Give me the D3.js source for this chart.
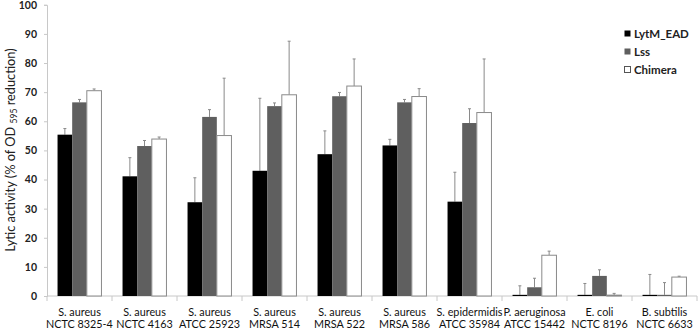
<!DOCTYPE html>
<html>
<head>
<script src="https://cdn.jsdelivr.net/npm/d3@7/dist/d3.min.js"></script>
<style>
    body{ margin:0; background:white; font-family:Lato, "Open Sans", sans-serif; }
</style>
</head>
<body>
<div id="chart"></div>
<script>
    var categories = [
        ["S. aureus","NCTC 8325-4"],
        ["S. aureus","NCTC 4163"],
        ["S. aureus","ATCC 25923"],
        ["S. aureus","MRSA 514"],
        ["S. aureus","MRSA 522"],
        ["S. aureus","MRSA 586"],
        ["S. epidermidis","ATCC 35984"],
        ["P. aeruginosa","ATCC 15442"],
        ["E. coli","NCTC 8196"],
        ["B. subtilis","NCTC 6633"]
    ]
    var series = ["LytM_EAD","Lss","Chimera"]
    var lytm = [55.4, 41.1, 32.2, 43.0, 48.7, 51.7, 32.4, 0.4, 0.4, 0.4]
    var lytmErr = [2.1, 6.4, 8.4, 24.9, 8.0, 2.1, 10.1, 3.1, 3.9, 7.0]
    var lss = [66.5, 51.5, 61.5, 65.2, 68.6, 66.5, 59.4, 3.0, 6.9, 0.4]
    var lssErr = [1.0, 1.9, 2.5, 1.1, 1.3, 1.0, 4.9, 3.1, 2.1, 4.2]
    var chimera = [70.5, 53.9, 55.1, 69.1, 72.1, 68.5, 63.0, 14.0, 0.3, 6.5]
    var chimeraErr = [0.6, 0.7, 19.7, 18.4, 9.3, 2.7, 18.4, 1.4, 0.6, 0.3]
    var yTicks = [0,10,20,30,40,50,60,70,80,90,100]

    var values = [lytm, lss, chimera]
    var errors = [lytmErr, lssErr, chimeraErr]
    var fills = ["#000000","#5f5f5f","#ffffff"]
    var strokes = ["none","none","#8a8a8a"]

    var width = 700, height = 329
    var svg = d3.select("#chart").append("svg")
        .attr("width",width).attr("height",height)

    var x0 = d3.scaleBand().domain(d3.range(categories.length)).range([47,697])
    var x1 = d3.scaleBand().domain(series).range([0,x0.bandwidth()]).paddingOuter(0.72)
    var y = d3.scaleLinear().domain([0,100]).range([296,4.8])

    // y axis
    var yAxis = svg.append("g").attr("transform","translate(47,0)")
        .call(d3.axisLeft(y).tickValues(yTicks).tickSize(3).tickPadding(7))
    yAxis.select(".domain").attr("stroke","#c8c8c8")
    yAxis.selectAll(".tick line").attr("stroke","#c8c8c8")
    yAxis.selectAll("text").attr("font-family","Lato, sans-serif").attr("font-size",10.5)
        .attr("font-weight","bold").attr("fill","#222")

    // x axis
    var xAxis = svg.append("g").attr("transform","translate(0,296)")
    xAxis.append("line").attr("x1",47).attr("x2",697).attr("stroke","#c8c8c8")
    xAxis.selectAll(".sep").data(d3.range(categories.length+1)).enter().append("line")
        .attr("x1",function(d){return d<categories.length ? x0(d) : x0(d-1)+x0.bandwidth()})
        .attr("x2",function(d){return d<categories.length ? x0(d) : x0(d-1)+x0.bandwidth()})
        .attr("y1",0).attr("y2",5).attr("stroke","#c8c8c8")

    var labels = svg.selectAll(".catlabel").data(categories).enter().append("text")
        .attr("x",function(d,i){return x0(i)+x0.bandwidth()/2})
        .attr("text-anchor","middle")
        .attr("font-size",10.8).attr("fill","#111")
    labels.append("tspan").attr("x",function(d,i){return x0(i)+x0.bandwidth()/2}).attr("y",316).text(function(d){return d[0]})
    labels.append("tspan").attr("x",function(d,i){return x0(i)+x0.bandwidth()/2}).attr("y",328).text(function(d){return d[1]})

    // bars
    for(var s=0;s<series.length;s++){
        var g = svg.append("g")
        var rows = categories.map(function(c,i){return {i:i,v:values[s][i],e:errors[s][i]}})
        var bx = x1(series[s]), bw = x1.bandwidth()
        // error bars first (upward only)
        g.selectAll(".err").data(rows).enter().append("line")
            .attr("x1",function(d){return x0(d.i)+bx+bw/2})
            .attr("x2",function(d){return x0(d.i)+bx+bw/2})
            .attr("y1",function(d){return y(d.v)})
            .attr("y2",function(d){return y(d.v+d.e)})
            .attr("stroke","#8a8a8a").attr("stroke-width",1)
        g.selectAll(".cap").data(rows).enter().append("line")
            .attr("x1",function(d){return x0(d.i)+bx+bw/2-1.5})
            .attr("x2",function(d){return x0(d.i)+bx+bw/2+1.5})
            .attr("y1",function(d){return y(d.v+d.e)})
            .attr("y2",function(d){return y(d.v+d.e)})
            .attr("stroke","#8a8a8a").attr("stroke-width",1)
        g.selectAll(".bar").data(rows).enter().append("rect")
            .attr("x",function(d){return x0(d.i)+bx})
            .attr("y",function(d){return y(d.v)})
            .attr("width",bw)
            .attr("height",function(d){return y(0)-y(d.v)})
            .attr("fill",fills[s])
            .attr("stroke",strokes[s])
    }

    // legend
    var legend = svg.append("g").attr("transform","translate(624,34)")
    series.forEach(function(name,i){
        var row = legend.append("g").attr("transform","translate(0,"+(i*18)+")")
        row.append("rect").attr("x",0.5).attr("y",-3.5).attr("width",6).attr("height",6)
            .attr("fill",fills[i]).attr("stroke",i==2 ? "#555" : "none")
        row.append("text").attr("x",10).attr("y",4).text(name)
            .attr("font-size",11.5).attr("font-weight","bold").attr("fill","#222")
    })

    // y title
    var title = svg.append("text")
        .attr("transform","translate(15,150) rotate(-90)")
        .attr("text-anchor","middle").attr("font-size",12.8).attr("fill","#222")
    title.append("tspan").text("Lytic activity (% of OD ")
    title.append("tspan").text("595").attr("font-size",8.5).attr("dy",2)
    title.append("tspan").text(" reduction)").attr("dy",-2)
</script>
</body>
</html>
